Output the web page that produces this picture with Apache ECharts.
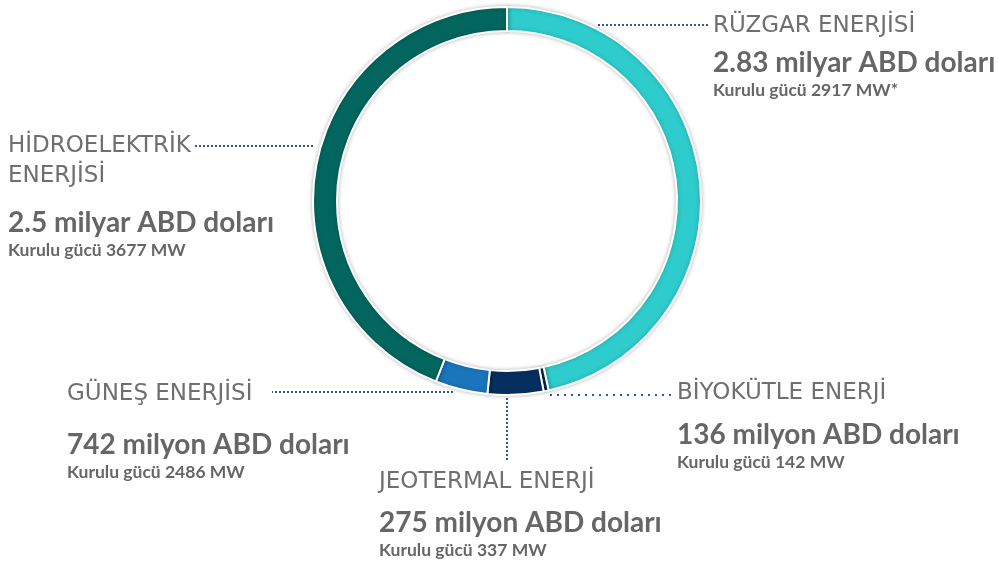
<!DOCTYPE html>
<html>
<head>
<meta charset="utf-8">
<script src="https://cdn.jsdelivr.net/npm/echarts@6/dist/echarts.min.js"></script>
<style>
    html, body { margin: 0; padding: 0; background: #fff; }
    #chart { width: 998px; height: 561px; }
</style>
</head>
<body>
<div id="chart"></div>
<script>
// dilimler saat yönünde, tepeden başlıyor
const energyNames = ['RÜZGAR ENERJİSİ', 'BİYOKÜTLE ENERJİ', 'JEOTERMAL ENERJİ', 'GÜNEŞ ENERJİSİ', 'HİDROELEKTRİK\nENERJİSİ'];
const sliceValues = [167.6, 1.5, 16.7, 15.7, 158.5];
const investmentLabels = ['2.83 milyar ABD doları', '136 milyon ABD doları', '275 milyon ABD doları', '742 milyon ABD doları', '2.5 milyar ABD doları'];
const capacityLabels = ['Kurulu gücü 2917 MW*', 'Kurulu gücü 142 MW', 'Kurulu gücü 337 MW', 'Kurulu gücü 2486 MW', 'Kurulu gücü 3677 MW'];

const colorList = ['#2ecccc', '#0a2c52', '#062f5f', '#1b75bb', '#02665f'];

// label placement (left/top of text block) and leader line points
const labelSpots = [
    { x: 713, y: 11, gap: 7, line: [[598, 25], [708, 25]], dash: [2, 2] },
    { x: 677, y: 378, gap: 12, line: [[550, 395], [674, 395]], dash: [2, 5] },
    { x: 379, y: 467, gap: 11, line: [[507, 398], [507, 462]], dash: [2, 2] },
    { x: 67, y: 379, gap: 21, line: [[453, 392], [272, 392]], dash: [2, 2] },
    { x: 8, y: 131, gap: 17, line: [[313, 146], [194, 146]], dash: [2, 2] }
];

const seriesData = energyNames.map((name, i) => ({
    name: name,
    value: sliceValues[i],
    itemStyle: { color: colorList[i] },
    label: {
        formatter: '{n|' + name.split('\n').join('}\n{n|') + '}\n{g|}\n{v|' + investmentLabels[i] + '}\n{c|' + capacityLabels[i] + '}',
        rich: {
            g: { height: labelSpots[i].gap, lineHeight: labelSpots[i].gap }
        }
    },
    labelLine: {
        lineStyle: { type: labelSpots[i].dash }
    }
}));

const option = {
    animation: false,
    series: [
        {
            type: 'pie',
            center: [507, 201],
            radius: [170, 194],
            startAngle: 90,
            clockwise: true,
            itemStyle: {
                borderColor: '#fff',
                borderWidth: 2,
                shadowBlur: 4,
                shadowColor: 'rgba(0,0,0,0.25)'
            },
            label: {
                show: true,
                position: 'outside',
                align: 'left',
                width: 320,
                overflow: 'none',
                rich: {
                    n: { fontFamily: 'DejaVu Sans', fontSize: 23, color: '#6f6f6f', lineHeight: 30 },
                    v: { fontFamily: 'Lato', fontWeight: 'bold', fontSize: 28, color: '#666', lineHeight: 30 },
                    c: { fontFamily: 'Lato', fontWeight: 'bold', fontSize: 17.5, color: '#666', lineHeight: 24 }
                }
            },
            labelLine: {
                show: true,
                length: 10,
                length2: 10,
                lineStyle: { color: '#2e5b8e', width: 2 }
            },
            labelLayout: function (params) {
                const s = labelSpots[params.dataIndex];
                return {
                    x: s.x,
                    y: s.y,
                    align: 'left',
                    verticalAlign: 'top',
                    labelLinePoints: s.line
                };
            },
            emphasis: { disabled: true },
            data: seriesData
        }
    ]
};

let myChart = echarts.init(document.getElementById('chart'));
myChart.setOption(option);
</script>
</body>
</html>
